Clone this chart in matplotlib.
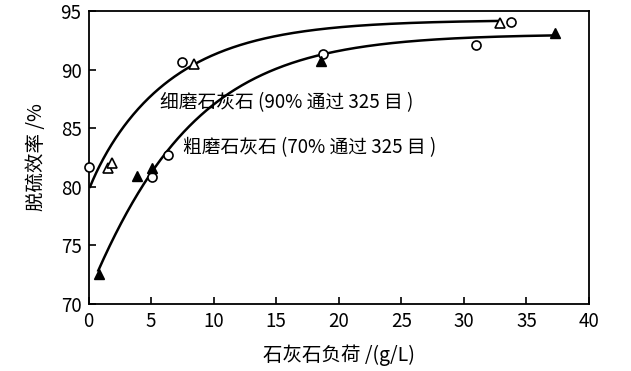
import numpy as np
import matplotlib
matplotlib.use("Agg")
import matplotlib.pyplot as plt

# ---- data ----
# fine limestone (upper curve)
fine_circle_x = [0.07, 7.49, 33.8]
fine_circle_y = [81.7, 90.67, 94.09]
fine_tri_x = [1.58, 1.85, 8.45, 32.9]
fine_tri_y = [81.58, 82.06, 90.48, 93.95]
# coarse limestone (lower curve)
coarse_circle_x = [5.1, 6.38, 18.75, 31.0]
coarse_circle_y = [80.86, 82.71, 91.3, 92.1]
coarse_tri_x = [0.84, 3.85, 5.1, 18.55, 37.26]
coarse_tri_y = [72.56, 80.92, 81.58, 90.76, 93.1]

# points
fine_curve_x = [0.12, 0.92, 1.98, 3.31, 4.65, 5.97, 7.31, 8.64, 10.5, 14.23, 16.9, 19.5, 24.5, 29.4, 32.9]
fine_curve_y = [80.0, 81.86, 83.85, 85.84, 87.4, 88.69, 89.68, 90.54, 91.39, 92.8, 93.3, 93.6, 93.92, 94.04, 94.09]
coarse_curve_x = [0.78, 1.85, 2.92, 3.98, 5.05, 6.37, 7.7, 8.9, 11.56, 14.2, 16.9, 18.75, 20.9, 24.5, 29.4, 34.7, 37.1]
coarse_curve_y = [72.76, 75.46, 77.6, 79.44, 81.15, 83.0, 84.85, 86.13, 88.26, 89.68, 90.82, 91.3, 91.73, 92.24, 92.67, 92.87, 92.95]

label_fine = "细磨石灰石 (90% 通过 325 目 )"
label_coarse = "粗磨石灰石 (70% 通过 325 目 )"
xlabel = "石灰石负荷 /(g/L)"
ylabel = "脱硫效率 /%"
xticks = [0, 5, 10, 15, 20, 25, 30, 35, 40]
yticks = [70, 75, 80, 85, 90, 95]


def fit_curve(x, y, n=400):
    """Smooth fit y = A - B exp(-x/c) - D exp(-x/e) through the traced points."""
    x = np.asarray(x, float); y = np.asarray(y, float)
    best = None
    for c in np.linspace(0.5, 30, 120):
        for e in np.linspace(0.5, 30, 120):
            if e <= c:
                continue
            M = np.column_stack([np.ones_like(x), np.exp(-x / c), np.exp(-x / e)])
            coef, *_ = np.linalg.lstsq(M, y, rcond=None)
            r = np.sum((M @ coef - y) ** 2)
            if best is None or r < best[0]:
                best = (r, c, e, coef)
    _, c, e, coef = best
    xs = np.linspace(x[0], x[-1], n)
    ys = coef[0] + coef[1] * np.exp(-xs / c) + coef[2] * np.exp(-xs / e)
    return xs, ys


fam = ['Noto Sans CJK SC', 'DejaVu Sans']
plt.rcParams['font.family'] = fam

fig = plt.figure(figsize=(6.31, 3.71), dpi=100)
ax = fig.add_axes([0.1403, 0.1806, 0.7932, 0.7898])

xs, ys = fit_curve(fine_curve_x, fine_curve_y)
ax.plot(xs, ys, color='black', lw=1.8, zorder=2)
xs, ys = fit_curve(coarse_curve_x, coarse_curve_y)
ax.plot(xs, ys, color='black', lw=1.8, zorder=2)

ms = 6.5
ax.plot(fine_circle_x, fine_circle_y, 'o', ms=ms, mfc='white', mec='black', mew=1.2, clip_on=False, zorder=3)
ax.plot(fine_tri_x, fine_tri_y, '^', ms=ms, mfc='white', mec='black', mew=1.2, clip_on=False, zorder=3)
ax.plot(coarse_circle_x, coarse_circle_y, 'o', ms=ms, mfc='white', mec='black', mew=1.2, clip_on=False, zorder=3)
ax.plot(coarse_tri_x, coarse_tri_y, '^', ms=ms, mfc='black', mec='black', mew=1.0, clip_on=False, zorder=3)

ax.text(5.7, 87.15, label_fine, fontsize=13.5, va='center', ha='left', fontweight='light')
ax.text(7.55, 83.3, label_coarse, fontsize=13.5, va='center', ha='left', fontweight='light')

ax.set_xlim(0, 40)
ax.set_ylim(70, 95)
ax.set_xticks(xticks)
ax.set_yticks(yticks)
ax.tick_params(direction='in', length=5, width=1.2, labelsize=13.5, top=False, right=False, pad=5)
for s in ax.spines.values():
    s.set_linewidth(1.3)

ax.set_xlabel(xlabel, fontsize=14, labelpad=9, fontweight='light')
ax.set_ylabel(ylabel, fontsize=14, labelpad=10, fontweight='light')

fig.savefig("out.png", dpi=100)
